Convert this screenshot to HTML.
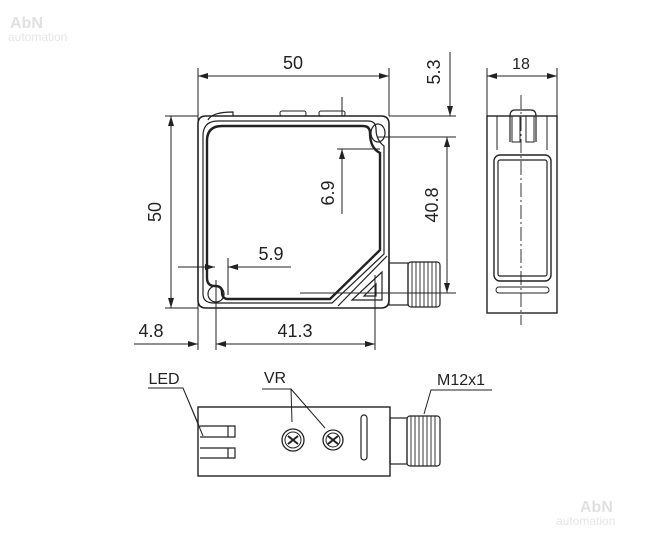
<!DOCTYPE html><html><head><style>html,body{margin:0;padding:0;background:#fff}svg{display:block}text{font-family:"Liberation Sans",sans-serif;fill:#222}</style></head><body>
<svg width="662" height="537" viewBox="0 0 662 537" xmlns="http://www.w3.org/2000/svg">
<defs><marker id="a" viewBox="0 0 10 6" refX="10" refY="3" markerWidth="10" markerHeight="6" orient="auto-start-reverse" markerUnits="userSpaceOnUse"><path d="M0,0L10,3L0,6z" fill="#222"/></marker></defs>
<text x="10" y="28" font-size="16" font-weight="bold" style="fill:#e0e0e0">AbN</text>
<text x="8" y="41" font-size="12" style="fill:#e6e6e6">automation</text>
<text x="580" y="512" font-size="16" font-weight="bold" style="fill:#e0e0e0">AbN</text>
<text x="556" y="525" font-size="12" style="fill:#e6e6e6">automation</text>
<g stroke="#222" stroke-width="1" fill="none">
<line x1="198" y1="68" x2="198" y2="350"/><line x1="389" y1="68" x2="389" y2="116"/>
<line x1="198" y1="76" x2="389" y2="76" marker-start="url(#a)" marker-end="url(#a)"/>
<line x1="165" y1="116" x2="198" y2="116"/><line x1="165" y1="308" x2="198" y2="308"/>
<line x1="171" y1="116" x2="171" y2="308" marker-start="url(#a)" marker-end="url(#a)"/>
<line x1="389" y1="116" x2="456" y2="116"/><line x1="378" y1="137" x2="456" y2="137"/>
<line x1="450" y1="52" x2="450" y2="116" marker-end="url(#a)"/>
<line x1="447" y1="137" x2="447" y2="293" marker-start="url(#a)" marker-end="url(#a)"/>
<line x1="300" y1="293" x2="456" y2="293"/>
<line x1="342" y1="97" x2="342" y2="116"/><line x1="342" y1="149" x2="342" y2="214" marker-start="url(#a)"/>
<line x1="337" y1="149" x2="380" y2="149"/>
<line x1="178" y1="267" x2="215" y2="267" marker-end="url(#a)"/><line x1="228" y1="267" x2="291" y2="267" marker-start="url(#a)"/>
<line x1="216" y1="280" x2="216" y2="350"/><line x1="228" y1="258" x2="228" y2="295"/>
<line x1="134" y1="344" x2="198" y2="344" marker-end="url(#a)"/>
<line x1="216" y1="344" x2="375" y2="344" marker-start="url(#a)" marker-end="url(#a)"/>
<line x1="375" y1="275" x2="375" y2="350"/>
<path d="M206,116H381Q389,116 389,124V300Q389,308 381,308H206Q198,308 198,300V124Q198,116 206,116Z" stroke-width="1.6"/>
<path d="M218,121H368Q376,121 376,129Q376,140 384,146V254L332,303H214Q203,303 203,294V136Q203,121 218,121Z" stroke-width="1.2"/>
<path d="M222,126H363Q370,126 370,133Q370,148 380,153V250L330,299H228Q222,299 222,292Q222,286 215,286Q207,286 207,278V141Q207,126 222,126Z" stroke-width="2.4"/>
<path d="M387,256L338,306" stroke-width="1.2"/>
<path d="M382,272V300H352Z M376,284V296H364Z" stroke-width="1.2"/>
<ellipse cx="378" cy="133" rx="7" ry="9" stroke-width="1.2"/><ellipse cx="216" cy="294" rx="8" ry="8" stroke-width="1.2"/>
<path d="M208,120Q212,112 233,112V116" stroke-width="1.2"/>
<rect x="280" y="111" width="26" height="5" rx="2"/><rect x="319" y="111" width="26" height="5" rx="2"/>
<rect x="389" y="263" width="19" height="42" stroke-width="1.2"/>
<rect x="408" y="262" width="32" height="45" rx="3" stroke-width="1.2"/>
<path d="M412,262V307M416,262V307M420,262V307M424,262V307M428,262V307M432,262V307M436,262V307" stroke-width="0.9"/>
<line x1="487" y1="68" x2="487" y2="116"/><line x1="557" y1="68" x2="557" y2="116"/>
<line x1="487" y1="76" x2="557" y2="76" marker-start="url(#a)" marker-end="url(#a)"/>
<rect x="487" y="116" width="70" height="197" stroke-width="1.4"/>
<path d="M497,116V150M547,116V150" />
<path d="M510,142V116Q510,110 515,110H531Q536,110 536,116V142" stroke-width="1.2"/>
<rect x="512" y="116" width="8" height="26"/><rect x="526" y="116" width="8" height="26"/>
<rect x="494" y="155" width="57" height="126" rx="6" stroke-width="1.4"/>
<rect x="498" y="160" width="49" height="116" rx="2" stroke-width="1.2"/>
<rect x="496" y="287" width="53" height="6" rx="3"/>
<line x1="521" y1="95" x2="521" y2="325" stroke-dasharray="14,3,2,3" stroke-width="0.9"/>
<rect x="198" y="407" width="192" height="69" stroke-width="1.4"/>
<path d="M200,426H235V437H200 M200,448H235V458H200 M228,426V437 M228,448V458" stroke-width="1.2"/>
<circle cx="293" cy="440" r="11" stroke-width="1.3"/><circle cx="293" cy="440" r="8"/>
<circle cx="333" cy="440" r="10" stroke-width="1.3"/><circle cx="333" cy="440" r="7"/>
<path d="M288,436L298,444M298,436L288,444M328,436L338,444M338,436L328,444" stroke-width="2"/>
<rect x="361" y="415" width="6" height="45" rx="3" stroke-width="1.2"/>
<rect x="390" y="418" width="17" height="46" stroke-width="1.2"/>
<rect x="407" y="416" width="33" height="50" rx="3" stroke-width="1.2"/>
<path d="M411,416V466M415,416V466M419,416V466M423,416V466M427,416V466M431,416V466M435,416V466" stroke-width="0.9"/>
<path d="M148,388H183L200,428 M183,388L203,436"/>
<path d="M262,389H291L292,422 M291,389L325,428"/>
<path d="M492,390H431L424,414"/>
</g>
<text x="293" y="69" font-size="18" text-anchor="middle">50</text>
<text x="521" y="69" font-size="16" text-anchor="middle">18</text>
<text transform="translate(161,212) rotate(-90)" font-size="18" text-anchor="middle">50</text>
<text transform="translate(440,72) rotate(-90)" font-size="18" text-anchor="middle">5.3</text>
<text transform="translate(438,205) rotate(-90)" font-size="18" text-anchor="middle">40.8</text>
<text transform="translate(334,193) rotate(-90)" font-size="18" text-anchor="middle">6.9</text>
<text x="271" y="260" font-size="18" text-anchor="middle">5.9</text>
<text x="151" y="337" font-size="18" text-anchor="middle">4.8</text>
<text x="295" y="337" font-size="18" text-anchor="middle">41.3</text>
<text x="164" y="384" font-size="16" text-anchor="middle">LED</text>
<text x="275" y="383" font-size="16" text-anchor="middle">VR</text>
<text x="461" y="385" font-size="16" text-anchor="middle">M12x1</text>
</svg></body></html>
